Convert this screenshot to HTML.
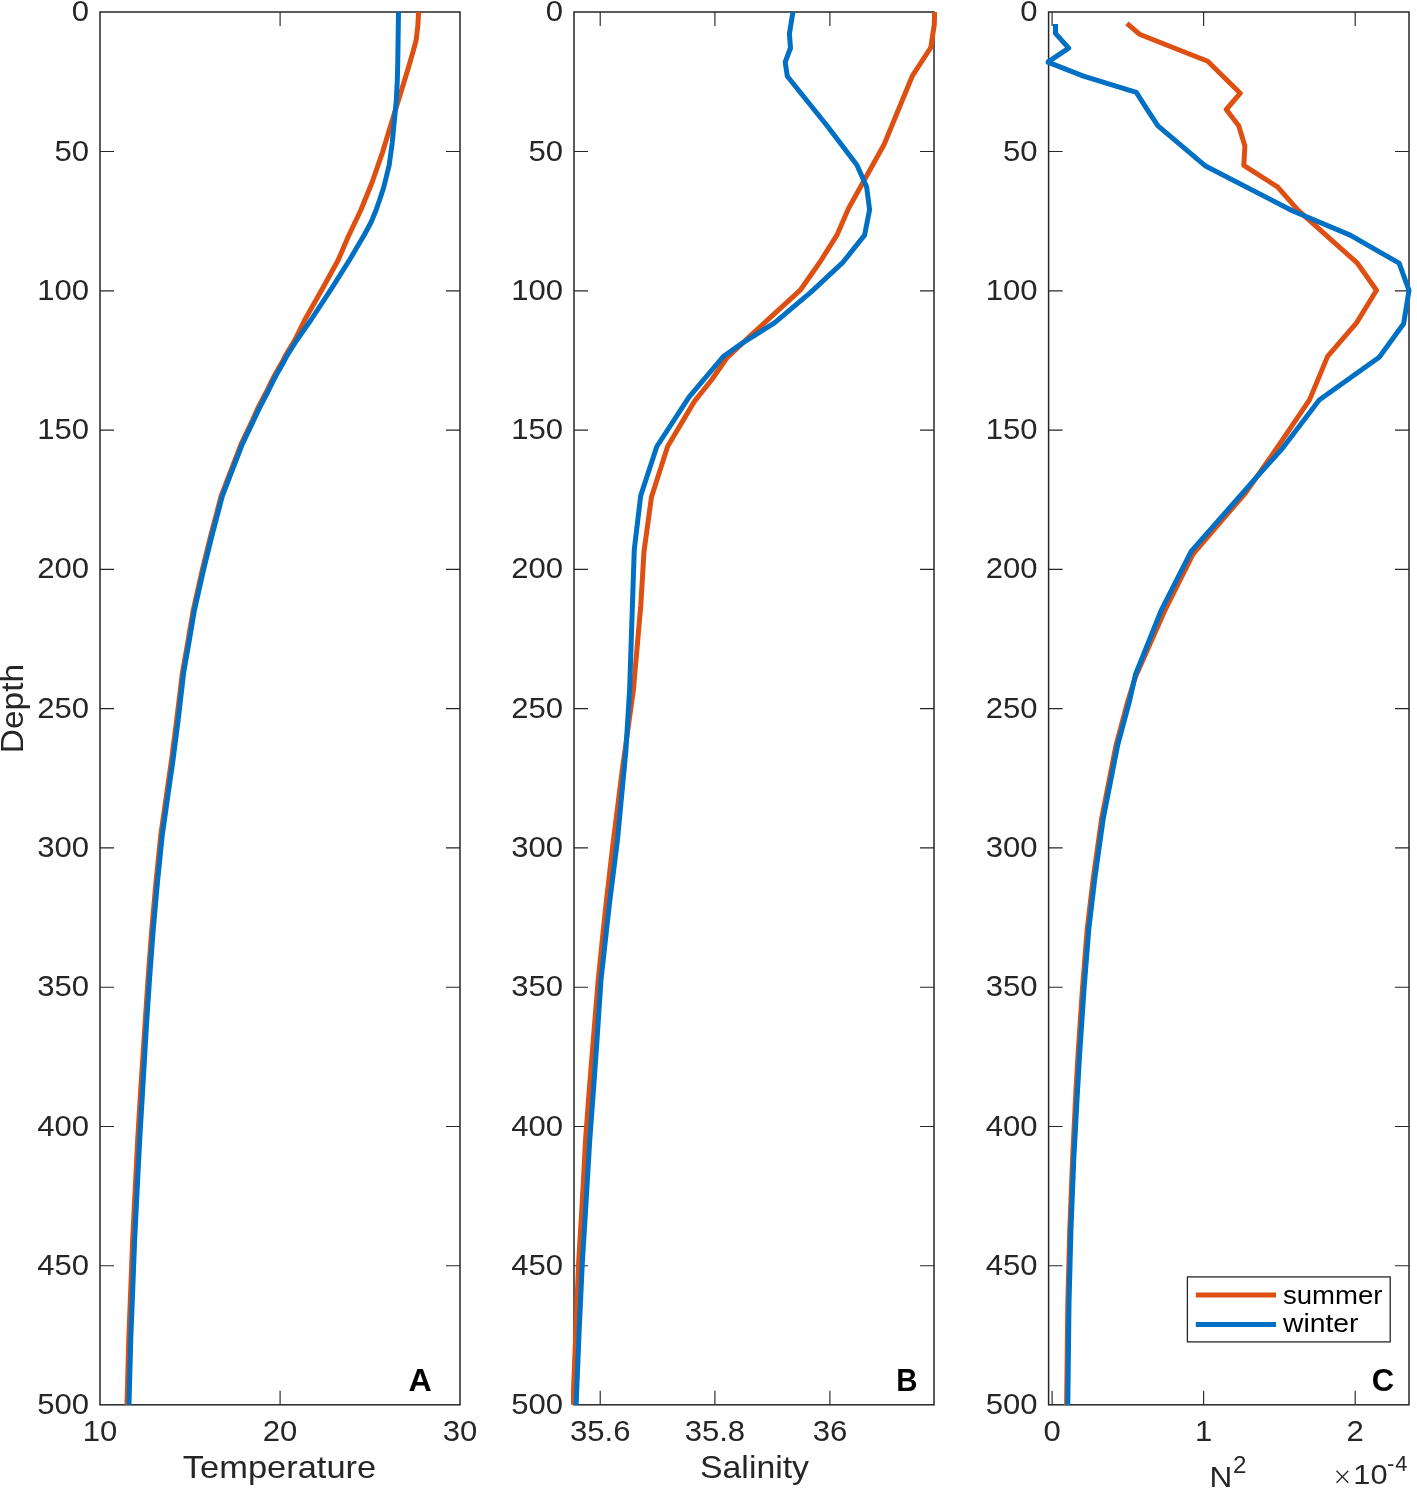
<!DOCTYPE html><html><head><meta charset="utf-8"><style>html,body{margin:0;padding:0;background:#fff;}svg{display:block;will-change:transform;} text{font-family:"Liberation Sans", sans-serif;}</style></head><body>
<svg width="1417" height="1491" viewBox="0 0 1417 1491">
<rect width="1417" height="1491" fill="#fff"/>
<g fill="none" stroke="#262626" stroke-width="1.15"><rect x="100.00" y="12.00" width="360.00" height="1392.80" fill="none" stroke-width="1.5"/><path d="M100.00 151.53 h14 M460.00 151.53 h-14"/><path d="M100.00 290.81 h14 M460.00 290.81 h-14"/><path d="M100.00 430.09 h14 M460.00 430.09 h-14"/><path d="M100.00 569.37 h14 M460.00 569.37 h-14"/><path d="M100.00 708.65 h14 M460.00 708.65 h-14"/><path d="M100.00 847.93 h14 M460.00 847.93 h-14"/><path d="M100.00 987.21 h14 M460.00 987.21 h-14"/><path d="M100.00 1126.49 h14 M460.00 1126.49 h-14"/><path d="M100.00 1265.77 h14 M460.00 1265.77 h-14"/><path d="M280.10 12.00 v14 M280.10 1404.80 v-14"/><rect x="574.00" y="12.00" width="360.00" height="1392.80" fill="none" stroke-width="1.5"/><path d="M574.00 151.53 h14 M934.00 151.53 h-14"/><path d="M574.00 290.81 h14 M934.00 290.81 h-14"/><path d="M574.00 430.09 h14 M934.00 430.09 h-14"/><path d="M574.00 569.37 h14 M934.00 569.37 h-14"/><path d="M574.00 708.65 h14 M934.00 708.65 h-14"/><path d="M574.00 847.93 h14 M934.00 847.93 h-14"/><path d="M574.00 987.21 h14 M934.00 987.21 h-14"/><path d="M574.00 1126.49 h14 M934.00 1126.49 h-14"/><path d="M574.00 1265.77 h14 M934.00 1265.77 h-14"/><path d="M600.20 12.00 v14 M600.20 1404.80 v-14"/><path d="M714.90 12.00 v14 M714.90 1404.80 v-14"/><path d="M829.90 12.00 v14 M829.90 1404.80 v-14"/><rect x="1048.60" y="12.00" width="360.40" height="1392.80" fill="none" stroke-width="1.5"/><path d="M1048.60 151.53 h14 M1409.00 151.53 h-14"/><path d="M1048.60 290.81 h14 M1409.00 290.81 h-14"/><path d="M1048.60 430.09 h14 M1409.00 430.09 h-14"/><path d="M1048.60 569.37 h14 M1409.00 569.37 h-14"/><path d="M1048.60 708.65 h14 M1409.00 708.65 h-14"/><path d="M1048.60 847.93 h14 M1409.00 847.93 h-14"/><path d="M1048.60 987.21 h14 M1409.00 987.21 h-14"/><path d="M1048.60 1126.49 h14 M1409.00 1126.49 h-14"/><path d="M1048.60 1265.77 h14 M1409.00 1265.77 h-14"/><path d="M1052.10 12.00 v14 M1052.10 1404.80 v-14"/><path d="M1203.60 12.00 v14 M1203.60 1404.80 v-14"/><path d="M1355.20 12.00 v14 M1355.20 1404.80 v-14"/></g>
<clipPath id="clipA"><rect x="97.0" y="9.0" width="366.0" height="1398.8"/></clipPath>
<clipPath id="clipB"><rect x="571.0" y="9.0" width="366.0" height="1398.8"/></clipPath>
<clipPath id="clipC"><rect x="1045.6" y="9.0" width="366.4" height="1398.8"/></clipPath>
<path d="M418.6 12.0 L417.8 26.1 L416.2 40.0 L413.4 50.3 L410.1 62.0 L402.0 88.7 L391.6 122.6 L382.6 152.1 L372.3 181.7 L361.0 209.7 L348.4 236.3 L338.2 260.0 L322.7 288.2 L304.7 320.0 L294.8 340.0 L285.2 356.1 L282.5 361.5 L273.4 377.6 L266.3 392.0 L257.9 408.1 L252.6 420.0 L241.0 444.3 L221.1 496.2 L210.4 537.0 L202.4 569.5 L193.1 610.9 L187.6 643.4 L182.4 672.9 L177.0 717.2 L171.5 760.2 L167.7 786.5 L160.8 834.8 L155.9 883.1 L151.6 931.4 L148.0 979.6 L144.8 1027.9 L140.7 1089.6 L137.7 1139.3 L135.2 1188.9 L132.7 1238.6 L130.8 1288.2 L128.8 1337.8 L127.0 1404.8" fill="none" stroke="#DE4F12" stroke-width="5.00" stroke-linejoin="round" stroke-linecap="butt" clip-path="url(#clipA)"/>
<path d="M398.5 12.0 L398.1 40.0 L397.7 66.0 L397.3 80.0 L396.4 99.0 L394.6 118.0 L392.2 143.0 L389.2 165.0 L386.3 177.0 L383.5 188.0 L379.9 199.0 L376.1 210.0 L371.2 222.0 L364.2 235.0 L349.5 260.0 L331.8 288.2 L310.9 320.0 L296.9 340.0 L286.7 356.1 L284.0 361.5 L274.9 377.6 L267.8 392.0 L259.4 408.1 L253.8 420.0 L242.2 444.3 L222.3 496.2 L211.6 537.0 L203.6 569.5 L194.3 610.9 L188.8 643.4 L183.6 672.9 L178.5 717.2 L173.0 760.2 L169.2 786.5 L162.3 834.8 L157.4 883.1 L153.1 931.4 L149.5 979.6 L146.3 1027.9 L142.7 1089.6 L139.7 1139.3 L137.2 1188.9 L134.7 1238.6 L132.8 1288.2 L130.8 1337.8 L129.0 1404.8" fill="none" stroke="#0070C4" stroke-width="5.00" stroke-linejoin="round" stroke-linecap="butt" clip-path="url(#clipA)"/>
<path d="M934.6 12.0 L934.3 24.5 L930.8 47.5 L912.2 76.2 L884.1 144.5 L848.5 208.5 L836.9 235.2 L820.0 262.0 L800.2 290.2 L784.7 304.3 L767.7 319.9 L750.8 335.4 L726.8 358.0 L711.5 380.0 L694.4 401.4 L667.6 446.5 L651.5 496.9 L644.0 551.6 L640.8 605.2 L633.4 690.0 L622.3 769.7 L612.6 847.0 L605.4 909.8 L598.2 979.9 L593.3 1040.0 L589.3 1089.6 L585.6 1139.3 L582.3 1201.3 L578.6 1263.3 L576.1 1325.4 L572.9 1404.8" fill="none" stroke="#DE4F12" stroke-width="5.00" stroke-linejoin="round" stroke-linecap="butt" clip-path="url(#clipB)"/>
<path d="M792.9 12.0 L789.4 33.9 L790.5 48.0 L785.2 62.1 L787.3 76.2 L826.7 125.2 L856.9 165.0 L866.6 186.7 L869.6 209.7 L864.6 235.1 L842.6 262.7 L811.5 291.6 L774.8 322.7 L742.3 343.1 L723.3 356.5 L689.0 397.2 L656.8 446.5 L640.7 495.8 L634.3 549.4 L632.2 611.6 L629.6 690.0 L625.9 750.4 L617.5 839.8 L609.0 907.4 L601.0 979.9 L597.0 1040.0 L593.5 1089.6 L589.8 1139.3 L586.1 1201.3 L582.3 1263.3 L579.4 1325.4 L576.1 1404.8" fill="none" stroke="#0070C4" stroke-width="5.00" stroke-linejoin="round" stroke-linecap="butt" clip-path="url(#clipB)"/>
<path d="M1126.9 23.3 L1139.4 34.2 L1207.7 61.3 L1240.3 93.2 L1226.3 109.5 L1238.7 125.8 L1244.9 145.9 L1243.8 165.4 L1277.8 187.1 L1297.7 209.8 L1357.4 263.2 L1376.5 290.3 L1356.5 322.9 L1327.6 356.4 L1309.5 399.9 L1278.2 446.2 L1246.0 492.3 L1193.4 553.5 L1164.4 611.5 L1135.4 677.0 L1128.2 700.0 L1116.2 744.6 L1101.7 818.2 L1093.2 878.5 L1087.2 929.2 L1082.4 989.5 L1078.0 1055.0 L1075.9 1091.1 L1072.6 1158.8 L1069.7 1231.3 L1067.8 1303.8 L1066.6 1405.3" fill="none" stroke="#DE4F12" stroke-width="5.00" stroke-linejoin="round" stroke-linecap="butt" clip-path="url(#clipC)"/>
<path d="M1055.5 24.1 L1055.5 33.4 L1068.7 48.1 L1047.8 62.1 L1083.5 76.1 L1136.3 92.4 L1148.7 111.8 L1158.0 125.8 L1205.0 165.7 L1292.3 210.7 L1350.2 235.1 L1399.1 263.2 L1409.0 290.3 L1403.6 323.8 L1379.2 357.3 L1319.2 400.0 L1282.5 448.3 L1254.6 479.4 L1191.2 551.4 L1161.2 610.4 L1135.4 674.8 L1129.8 700.0 L1117.8 744.6 L1103.3 818.2 L1094.8 878.5 L1088.8 929.2 L1084.0 989.5 L1079.6 1055.0 L1077.5 1091.1 L1073.8 1158.8 L1070.9 1231.3 L1069.0 1303.8 L1067.8 1405.3" fill="none" stroke="#0070C4" stroke-width="5.00" stroke-linejoin="round" stroke-linecap="butt" clip-path="url(#clipC)"/>
<text transform="translate(89.00 21.30) scale(1.0780 1)" text-anchor="end" font-size="28.80" font-weight="normal" fill="#262626">0</text><text transform="translate(89.00 160.58) scale(1.0780 1)" text-anchor="end" font-size="28.80" font-weight="normal" fill="#262626">50</text><text transform="translate(89.00 299.86) scale(1.0780 1)" text-anchor="end" font-size="28.80" font-weight="normal" fill="#262626">100</text><text transform="translate(89.00 439.14) scale(1.0780 1)" text-anchor="end" font-size="28.80" font-weight="normal" fill="#262626">150</text><text transform="translate(89.00 578.42) scale(1.0780 1)" text-anchor="end" font-size="28.80" font-weight="normal" fill="#262626">200</text><text transform="translate(89.00 717.70) scale(1.0780 1)" text-anchor="end" font-size="28.80" font-weight="normal" fill="#262626">250</text><text transform="translate(89.00 856.98) scale(1.0780 1)" text-anchor="end" font-size="28.80" font-weight="normal" fill="#262626">300</text><text transform="translate(89.00 996.26) scale(1.0780 1)" text-anchor="end" font-size="28.80" font-weight="normal" fill="#262626">350</text><text transform="translate(89.00 1135.54) scale(1.0780 1)" text-anchor="end" font-size="28.80" font-weight="normal" fill="#262626">400</text><text transform="translate(89.00 1274.82) scale(1.0780 1)" text-anchor="end" font-size="28.80" font-weight="normal" fill="#262626">450</text><text transform="translate(89.00 1414.10) scale(1.0780 1)" text-anchor="end" font-size="28.80" font-weight="normal" fill="#262626">500</text><text transform="translate(100.00 1441.40) scale(1.0780 1)" text-anchor="middle" font-size="28.80" font-weight="normal" fill="#262626">10</text><text transform="translate(280.10 1441.40) scale(1.0780 1)" text-anchor="middle" font-size="28.80" font-weight="normal" fill="#262626">20</text><text transform="translate(460.00 1441.40) scale(1.0780 1)" text-anchor="middle" font-size="28.80" font-weight="normal" fill="#262626">30</text><text transform="translate(563.00 21.30) scale(1.0780 1)" text-anchor="end" font-size="28.80" font-weight="normal" fill="#262626">0</text><text transform="translate(563.00 160.58) scale(1.0780 1)" text-anchor="end" font-size="28.80" font-weight="normal" fill="#262626">50</text><text transform="translate(563.00 299.86) scale(1.0780 1)" text-anchor="end" font-size="28.80" font-weight="normal" fill="#262626">100</text><text transform="translate(563.00 439.14) scale(1.0780 1)" text-anchor="end" font-size="28.80" font-weight="normal" fill="#262626">150</text><text transform="translate(563.00 578.42) scale(1.0780 1)" text-anchor="end" font-size="28.80" font-weight="normal" fill="#262626">200</text><text transform="translate(563.00 717.70) scale(1.0780 1)" text-anchor="end" font-size="28.80" font-weight="normal" fill="#262626">250</text><text transform="translate(563.00 856.98) scale(1.0780 1)" text-anchor="end" font-size="28.80" font-weight="normal" fill="#262626">300</text><text transform="translate(563.00 996.26) scale(1.0780 1)" text-anchor="end" font-size="28.80" font-weight="normal" fill="#262626">350</text><text transform="translate(563.00 1135.54) scale(1.0780 1)" text-anchor="end" font-size="28.80" font-weight="normal" fill="#262626">400</text><text transform="translate(563.00 1274.82) scale(1.0780 1)" text-anchor="end" font-size="28.80" font-weight="normal" fill="#262626">450</text><text transform="translate(563.00 1414.10) scale(1.0780 1)" text-anchor="end" font-size="28.80" font-weight="normal" fill="#262626">500</text><text transform="translate(600.20 1441.40) scale(1.0780 1)" text-anchor="middle" font-size="28.80" font-weight="normal" fill="#262626">35.6</text><text transform="translate(714.90 1441.40) scale(1.0780 1)" text-anchor="middle" font-size="28.80" font-weight="normal" fill="#262626">35.8</text><text transform="translate(829.90 1441.40) scale(1.0780 1)" text-anchor="middle" font-size="28.80" font-weight="normal" fill="#262626">36</text><text transform="translate(1037.60 21.30) scale(1.0780 1)" text-anchor="end" font-size="28.80" font-weight="normal" fill="#262626">0</text><text transform="translate(1037.60 160.58) scale(1.0780 1)" text-anchor="end" font-size="28.80" font-weight="normal" fill="#262626">50</text><text transform="translate(1037.60 299.86) scale(1.0780 1)" text-anchor="end" font-size="28.80" font-weight="normal" fill="#262626">100</text><text transform="translate(1037.60 439.14) scale(1.0780 1)" text-anchor="end" font-size="28.80" font-weight="normal" fill="#262626">150</text><text transform="translate(1037.60 578.42) scale(1.0780 1)" text-anchor="end" font-size="28.80" font-weight="normal" fill="#262626">200</text><text transform="translate(1037.60 717.70) scale(1.0780 1)" text-anchor="end" font-size="28.80" font-weight="normal" fill="#262626">250</text><text transform="translate(1037.60 856.98) scale(1.0780 1)" text-anchor="end" font-size="28.80" font-weight="normal" fill="#262626">300</text><text transform="translate(1037.60 996.26) scale(1.0780 1)" text-anchor="end" font-size="28.80" font-weight="normal" fill="#262626">350</text><text transform="translate(1037.60 1135.54) scale(1.0780 1)" text-anchor="end" font-size="28.80" font-weight="normal" fill="#262626">400</text><text transform="translate(1037.60 1274.82) scale(1.0780 1)" text-anchor="end" font-size="28.80" font-weight="normal" fill="#262626">450</text><text transform="translate(1037.60 1414.10) scale(1.0780 1)" text-anchor="end" font-size="28.80" font-weight="normal" fill="#262626">500</text><text transform="translate(1052.10 1441.40) scale(1.0780 1)" text-anchor="middle" font-size="28.80" font-weight="normal" fill="#262626">0</text><text transform="translate(1203.60 1441.40) scale(1.0780 1)" text-anchor="middle" font-size="28.80" font-weight="normal" fill="#262626">1</text><text transform="translate(1355.20 1441.40) scale(1.0780 1)" text-anchor="middle" font-size="28.80" font-weight="normal" fill="#262626">2</text>
<text transform="translate(279.50 1477.90) scale(1.0770 1)" text-anchor="middle" font-size="32.00" font-weight="normal" fill="#262626">Temperature</text>
<text transform="translate(754.50 1477.60) scale(1.0570 1)" text-anchor="middle" font-size="32.00" font-weight="normal" fill="#262626">Salinity</text>
<text transform="translate(22.50 708.55) rotate(-90) scale(1.0450 1)" text-anchor="middle" font-size="32.00" font-weight="normal" fill="#262626">Depth</text>
<text transform="translate(1221.00 1486.50) scale(1.0700 1)" text-anchor="middle" font-size="29.50" font-weight="normal" fill="#262626">N</text>
<text transform="translate(1239.80 1473.00) scale(1.0500 1)" text-anchor="middle" font-size="23.00" font-weight="normal" fill="#262626">2</text>
<path d="M1336.5 1470.8 L1348.3 1482.8 M1348.3 1470.8 L1336.5 1482.8" stroke="#262626" stroke-width="1.25" fill="none"/>
<text transform="translate(1370.45 1483.50) scale(1.1200 1)" text-anchor="middle" font-size="27.50" font-weight="normal" fill="#262626">10</text>
<text transform="translate(1390.60 1471.00)" text-anchor="middle" font-size="21.80" font-weight="normal" fill="#262626">-</text>
<text transform="translate(1401.40 1471.00)" text-anchor="middle" font-size="21.80" font-weight="normal" fill="#262626">4</text>
<text transform="translate(420.20 1390.90) scale(1.0400 1)" text-anchor="middle" font-size="31.00" font-weight="bold" fill="#000">A</text>
<text transform="translate(906.80 1390.90) scale(0.9500 1)" text-anchor="middle" font-size="31.00" font-weight="bold" fill="#000">B</text>
<text transform="translate(1383.00 1391.00)" text-anchor="middle" font-size="31.00" font-weight="bold" fill="#000">C</text>
<rect x="1187.4" y="1276.9" width="202.8" height="65" fill="#fff" stroke="#262626" stroke-width="1.30"/>
<path d="M1195.8 1294.9 H1276" stroke="#DE4F12" stroke-width="5.00"/>
<path d="M1195.8 1324.5 H1276" stroke="#0070C4" stroke-width="5.00"/>
<text transform="translate(1283.00 1303.60) scale(1.0800 1)" text-anchor="start" font-size="25.50" font-weight="normal" fill="#000">summer</text>
<text transform="translate(1283.00 1332.30) scale(1.1100 1)" text-anchor="start" font-size="25.50" font-weight="normal" fill="#000">winter</text>
</svg></body></html>
